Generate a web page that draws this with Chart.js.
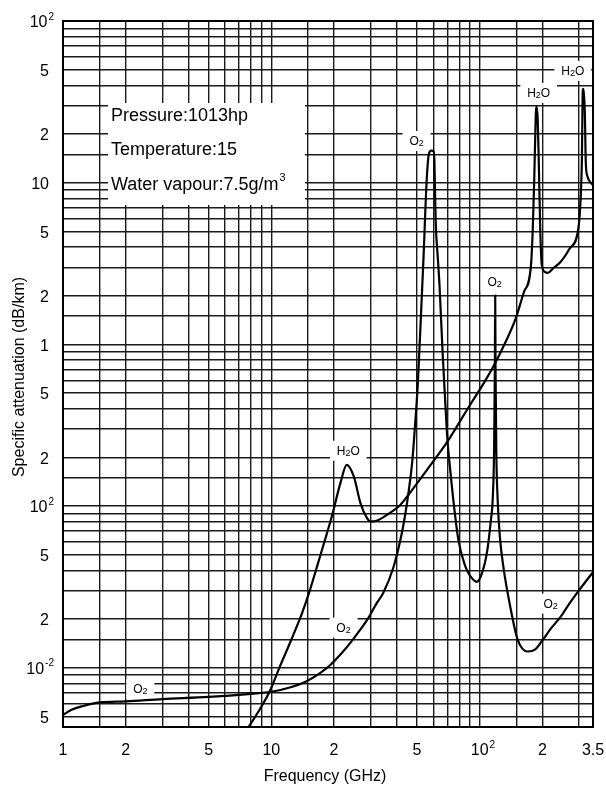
<!DOCTYPE html>
<html>
<head>
<meta charset="utf-8">
<script src="https://cdn.jsdelivr.net/npm/chart.js@4.4.1/dist/chart.umd.min.js"></script>
<style>
  html, body { margin: 0; padding: 0; background: #fff; }
  #wrap { width: 606px; height: 788px; }
</style>
</head>
<body>
<div id="wrap"><canvas id="attenChart" width="606" height="788"></canvas></div>
<script>
/* ==============================
   DATA
============================== */
// oxygen absorption (dB/km) against frequency (GHz)
const o2Freq = [1, 1.1, 1.25, 1.5, 2, 3, 5, 8, 10,
  12.5, 14.6, 17, 19.2, 22, 24, 27, 29.3, 32, 34.5,
  38.6, 42, 44, 45.7, 47.5, 49, 50.4, 52, 53.8, 55.6,
  57, 58.5, 60, 60.6, 61, 61.5, 63, 64.2, 66.4, 68,
  70, 72.5, 75, 79, 85, 90, 97, 103, 109, 113,
  115.5, 117.3, 118.3, 118.75, 119.2, 120.2, 122, 125, 130, 141,
  152, 170, 185, 201, 220, 245, 270, 299, 325, 350];
const o2Atten = [0.0051, 0.0055, 0.0058, 0.0061, 0.0062, 0.0064, 0.0066, 0.0069, 0.0071,
  0.0076, 0.0082, 0.0092, 0.0104, 0.0125, 0.0143, 0.0175, 0.0204, 0.025, 0.0291,
  0.042, 0.065, 0.09, 0.125, 0.19, 0.32, 0.55, 1.3, 3.5, 10,
  15, 15.8, 15.7, 14, 9.4, 5.8, 3.4, 2.28, 0.89, 0.5,
  0.26, 0.16, 0.105, 0.062, 0.043, 0.037, 0.034, 0.039, 0.054, 0.08,
  0.11, 0.22, 0.7, 2.0, 0.7, 0.22, 0.11, 0.065, 0.042, 0.023,
  0.015, 0.0126, 0.013, 0.0149, 0.0175, 0.0207, 0.025, 0.030, 0.0345, 0.039];

// water vapour absorption (dB/km)
const h2oFreq = [7.5, 8.85, 9.8, 11, 12.5, 14, 15.1, 16.9, 18.5, 19.6, 21.5,
  23.0, 24.9, 26.8, 28.8, 29.9, 32, 36, 41.7, 45, 56,
  70, 87.6, 93.8, 105, 117, 130, 149, 163, 176, 179.8,
  182.8, 185.9, 187.9, 190, 192.1, 195.4, 198.7, 205.3, 212.3, 225,
  245, 270, 295, 302.6, 309.3, 312.8, 315.2, 319.8, 323.3, 329.5,
  341.8, 350];
const h2oAtten = [0.0040, 0.0056, 0.0071, 0.0102, 0.015, 0.0215, 0.0285, 0.046, 0.068, 0.088, 0.140,
  0.18, 0.152, 0.104, 0.0842, 0.0803, 0.0812, 0.0885, 0.102, 0.115, 0.168,
  0.25, 0.40, 0.46, 0.58, 0.74, 0.97, 1.45, 2.1, 3.0, 5.1,
  10.4, 26, 29.4, 24.4, 13.8, 5.1, 3.1, 2.81, 2.77, 2.95,
  3.24, 3.9, 4.87, 6.5, 13.2, 37.4, 38, 27, 13.2, 10.9,
  9.97, 9.7];

// log-paper rulings
const xGridVals = [1, 1.5, 2, 3, 4, 5, 6, 7, 8, 9,
  10, 15, 20, 30, 40, 50, 60, 70, 80, 90,
  100, 150, 200, 300, 350];
const yGridVals = [0.005, 0.006, 0.007, 0.008, 0.009,
  0.01, 0.015, 0.02, 0.03, 0.04, 0.05, 0.06, 0.07, 0.08, 0.09,
  0.1, 0.15, 0.2, 0.3, 0.4, 0.5, 0.6, 0.7, 0.8, 0.9,
  1, 1.5, 2, 3, 4, 5, 6, 7, 8, 9,
  10, 15, 20, 30, 40, 50, 60, 70, 80, 90, 100];

// tick labels ("^" marks a superscript)
const xTickVals = [1, 2, 5, 10, 20, 50, 100, 200, 350];
const xTickText = ['1', '2', '5', '10', '2', '5', '10^2', '2', '3.5'];
const yTickVals = [100, 50, 20, 10, 5, 2, 1, 0.5, 0.2, 0.1, 0.05, 0.02, 0.01, 0.005];
const yTickText = ['10^2', '5', '2', '10', '5', '2', '1', '5', '2', '10^2', '5', '2', '10^-2', '5'];

const conditions = ['Pressure:1013hp', 'Temperature:15', 'Water vapour:7.5g/m^3'];

// curve tags, anchored at (GHz, dB/km)
const tagText = ['O2', 'O2', 'H2O', 'O2', 'O2', 'H2O', 'H2O', 'O2'];
const tagFreq = [2.35, 22.2, 23.4, 49.8, 118, 192, 280, 219];
const tagAtten = [0.0074, 0.0177, 0.22, 18.1, 2.43, 35.9, 49.1, 0.0249];

/* ==============================
   TEXT HELPERS
============================== */
const FONT = '"Liberation Sans", Arial, sans-serif';

// width of "base^sup" text
function supWidth(ctx, str, size) {
  const [base, sup] = str.split('^');
  ctx.font = size + 'px ' + FONT;
  let w = ctx.measureText(base).width;
  if (sup) {
    ctx.font = Math.round(size * 0.62) + 'px ' + FONT;
    w += ctx.measureText(sup).width + 1;
  }
  return w;
}

// draws "base^sup" with left edge at x, vertically centred on y
function drawSup(ctx, str, x, y, size) {
  const [base, sup] = str.split('^');
  ctx.textAlign = 'left';
  ctx.textBaseline = 'middle';
  ctx.font = size + 'px ' + FONT;
  ctx.fillText(base, x, y);
  if (sup) {
    const bw = ctx.measureText(base).width;
    ctx.font = Math.round(size * 0.62) + 'px ' + FONT;
    ctx.fillText(sup, x + bw + 1, y - size * 0.38);
  }
}

// chemical formula with digits as subscripts, centred on (cx, cy)
function drawFormula(ctx, str, cx, cy, size) {
  const small = Math.round(size * 0.75);
  const parts = str.split('').map(ch => ({ ch, sub: /\d/.test(ch) }));
  let w = 0;
  parts.forEach(p => {
    ctx.font = (p.sub ? small : size) + 'px ' + FONT;
    p.w = ctx.measureText(p.ch).width;
    w += p.w;
  });
  ctx.textAlign = 'left';
  ctx.textBaseline = 'alphabetic';
  let x = cx - w / 2;
  const base = cy + size * 0.36;
  parts.forEach(p => {
    ctx.font = (p.sub ? small : size) + 'px ' + FONT;
    ctx.fillText(p.ch, x, base + (p.sub ? 1 : 0));
    x += p.w;
  });
  return w;
}

/* ==============================
   ANNOTATION PLUGIN
============================== */
const paperText = {
  id: 'paperText',
  beforeDatasetsDraw(chart) {
    const { ctx, chartArea: area, scales: { x, y } } = chart;
    ctx.save();

    // conditions box
    const bx = area.left + 45, by = area.top + 82;
    ctx.fillStyle = '#fff';
    ctx.fillRect(bx, by, 197, 102);
    ctx.fillStyle = '#000';
    conditions.forEach((line, i) => {
      drawSup(ctx, line, bx + 3, by + 13 + i * 34.5, 18);
    });

    // curve tags on white patches
    tagText.forEach((t, i) => {
      const cx = x.getPixelForValue(tagFreq[i]);
      const cy = y.getPixelForValue(tagAtten[i]);
      ctx.font = '12px ' + FONT;
      const w = ctx.measureText(t).width;
      ctx.fillStyle = '#fff';
      ctx.fillRect(cx - w / 2 - 6, cy - 10, w + 12, 20);
      ctx.fillStyle = '#000';
      drawFormula(ctx, t, cx, cy, 12);
    });
    ctx.restore();
  },
  afterDraw(chart) {
    const { ctx, chartArea: area, scales: { x, y } } = chart;
    ctx.save();

    // frame
    ctx.strokeStyle = '#000';
    ctx.lineWidth = 2;
    ctx.strokeRect(area.left, area.top, area.right - area.left, area.bottom - area.top);

    ctx.fillStyle = '#000';
    // y tick labels
    yTickVals.forEach((v, i) => {
      const t = yTickText[i];
      const py = y.getPixelForValue(v) + 2;
      const right = t.includes('^') ? area.left - 9 : area.left - 14;
      drawSup(ctx, t, right - supWidth(ctx, t, 16), py, 16);
    });

    // x tick labels
    xTickVals.forEach((v, i) => {
      const t = xTickText[i];
      const px = x.getPixelForValue(v);
      ctx.font = '16px ' + FONT;
      const bw = ctx.measureText(t.split('^')[0]).width;
      drawSup(ctx, t, px - bw / 2, area.bottom + 24, 16);
    });

    // axis titles
    ctx.font = '16px ' + FONT;
    ctx.textAlign = 'center';
    ctx.textBaseline = 'middle';
    ctx.fillText('Frequency (GHz)', (area.left + area.right) / 2 - 3, area.bottom + 50);
    ctx.translate(20, (area.top + area.bottom) / 2 + 3);
    ctx.rotate(-Math.PI / 2);
    ctx.fillText('Specific attenuation (dB/km)', 0, 0);
    ctx.restore();
  }
};

/* ==============================
   CHART
============================== */
function toPoints(xs, ys) {
  return xs.map((f, i) => ({ x: f, y: ys[i] }));
}

const gridStyle = { color: '#1a1a1a', lineWidth: 1.4, drawTicks: false };

new Chart(document.getElementById('attenChart').getContext('2d'), {
  type: 'line',
  data: {
    datasets: [{
      label: 'O2',
      data: toPoints(o2Freq, o2Atten),
      borderColor: '#000',
      borderWidth: 2.2,
      pointRadius: 0,
      cubicInterpolationMode: 'monotone'
    }, {
      label: 'H2O',
      data: toPoints(h2oFreq, h2oAtten),
      borderColor: '#000',
      borderWidth: 2.2,
      pointRadius: 0,
      cubicInterpolationMode: 'monotone'
    }]
  },
  options: {
    responsive: false,
    animation: false,
    layout: { padding: { left: 63, right: 13, top: 21, bottom: 61 } },
    plugins: { legend: { display: false }, tooltip: { enabled: false } },
    scales: {
      x: {
        type: 'logarithmic',
        min: 1,
        max: 350,
        afterBuildTicks: s => { s.ticks = xGridVals.map(v => ({ value: v })); },
        afterFit: s => { s.height = 0; },
        ticks: { display: false },
        grid: gridStyle,
        border: { display: false }
      },
      y: {
        type: 'logarithmic',
        min: 0.0043,
        max: 100,
        afterBuildTicks: s => { s.ticks = yGridVals.map(v => ({ value: v })); },
        afterFit: s => { s.width = 0; },
        ticks: { display: false },
        grid: gridStyle,
        border: { display: false }
      }
    }
  },
  plugins: [paperText]
});
</script>
</body>
</html>
